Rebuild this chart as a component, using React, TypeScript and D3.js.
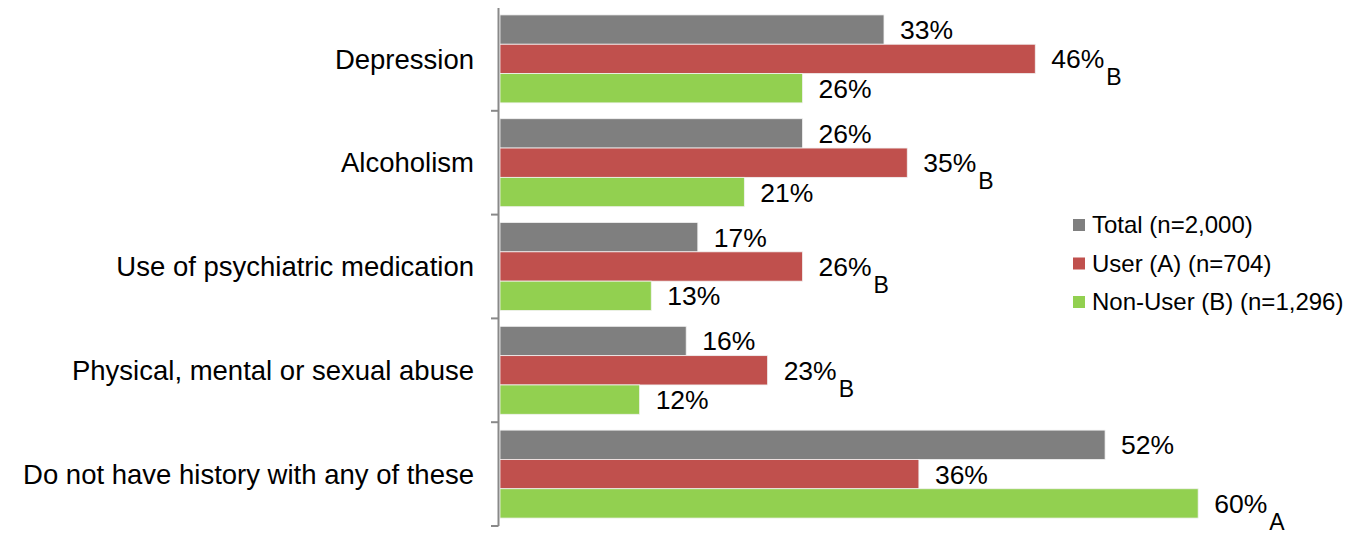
import { useEffect, useRef } from 'react';
import * as d3 from 'd3';

const categories = [
  'Depression',
  'Alcoholism',
  'Use of psychiatric medication',
  'Physical, mental or sexual abuse',
  'Do not have history with any of these',
];
const seriesNames = ['Total (n=2,000)', 'User (A) (n=704)', 'Non-User (B) (n=1,296)'];
const seriesColors = ['#7f7f7f', '#c0504d', '#92d050'];
const totalValues = [33, 26, 17, 16, 52];
const userValues = [46, 35, 26, 23, 36];
const nonUserValues = [26, 21, 13, 12, 60];
// significance letters shown as subscripts after the value
const userSig = ['B', 'B', 'B', 'B', ''];
const nonUserSig = ['', '', '', '', 'A'];

const W = 1353;
const H = 538;

export default function App() {
  const svgRef = useRef<SVGSVGElement>(null);

  useEffect(() => {
    if (!svgRef.current) return;
    const svg = d3.select(svgRef.current);
    svg.selectAll('*').remove();

    const font = '"Liberation Sans", Arial, sans-serif';
    const series = [totalValues, userValues, nonUserValues];
    const sigs = [categories.map(() => ''), userSig, nonUserSig];

    const x = d3.scaleLinear().domain([0, 100]).range([500, 1663.6]);
    const y = d3.scaleBand<string>().domain(categories).range([7, 526]).padding(0);
    const inner = d3.scaleBand<number>()
      .domain([0, 1, 2])
      .range([0, y.bandwidth()])
      .paddingInner(0)
      .paddingOuter(0.27);

    const g = svg.append('g');

    const groups = g.selectAll('g.cat')
      .data(categories)
      .join('g')
      .attr('class', 'cat')
      .attr('transform', (d) => `translate(0,${y(d)})`);

    series.forEach((vals, si) => {
      groups.append('rect')
        .attr('x', x(0))
        .attr('y', inner(si)!)
        .attr('width', (_d, i) => x(vals[i]) - x(0))
        .attr('height', inner.bandwidth())
        .attr('fill', seriesColors[si])
        .attr('stroke', '#f2f2f2')
        .attr('stroke-width', 0.8);

      const t = groups.append('text')
        .attr('x', (_d, i) => x(vals[i]) + 16)
        .attr('y', inner(si)! + inner.bandwidth() / 2 + 9.5)
        .attr('font-family', font)
        .attr('font-size', 26.5)
        .attr('fill', '#000');
      t.append('tspan').text((_d, i) => `${vals[i]}%`);
      t.append('tspan')
        .attr('dx', 2)
        .attr('dy', 17)
        .attr('font-size', 23)
        .text((_d, i) => sigs[si][i]);
    });

    // category labels
    groups.append('text')
      .attr('x', 474)
      .attr('y', y.bandwidth() / 2)
      .attr('dy', '0.35em')
      .attr('text-anchor', 'end')
      .attr('font-family', font)
      .attr('font-size', 27.5)
      .attr('fill', '#000')
      .text((d) => d);

    // vertical axis with group ticks
    const axisX = 498.5;
    g.append('line')
      .attr('x1', axisX).attr('x2', axisX)
      .attr('y1', 7).attr('y2', 526)
      .attr('stroke', '#898989').attr('stroke-width', 2);
    const bounds = [...categories.map((c) => y(c)!), 526];
    g.selectAll('line.tick')
      .data(bounds)
      .join('line')
      .attr('class', 'tick')
      .attr('x1', 491).attr('x2', axisX)
      .attr('y1', (d) => d).attr('y2', (d) => d)
      .attr('stroke', '#898989').attr('stroke-width', 2);

    // legend
    const legend = g.append('g').attr('transform', 'translate(1073,225)');
    seriesNames.forEach((name, i) => {
      const row = legend.append('g').attr('transform', `translate(0,${i * 38.5})`);
      row.append('rect')
        .attr('x', 0).attr('y', -6)
        .attr('width', 12).attr('height', 12)
        .attr('fill', seriesColors[i]);
      row.append('text')
        .attr('x', 19).attr('y', 0)
        .attr('dy', '0.35em')
        .attr('font-family', font)
        .attr('font-size', 24)
        .attr('fill', '#000')
        .text(name);
    });
  }, []);

  return (
    <div style={{ margin: -8 }}>
      <svg ref={svgRef} width={W} height={H} style={{ display: 'block', background: '#fff' }} />
    </div>
  );
}
